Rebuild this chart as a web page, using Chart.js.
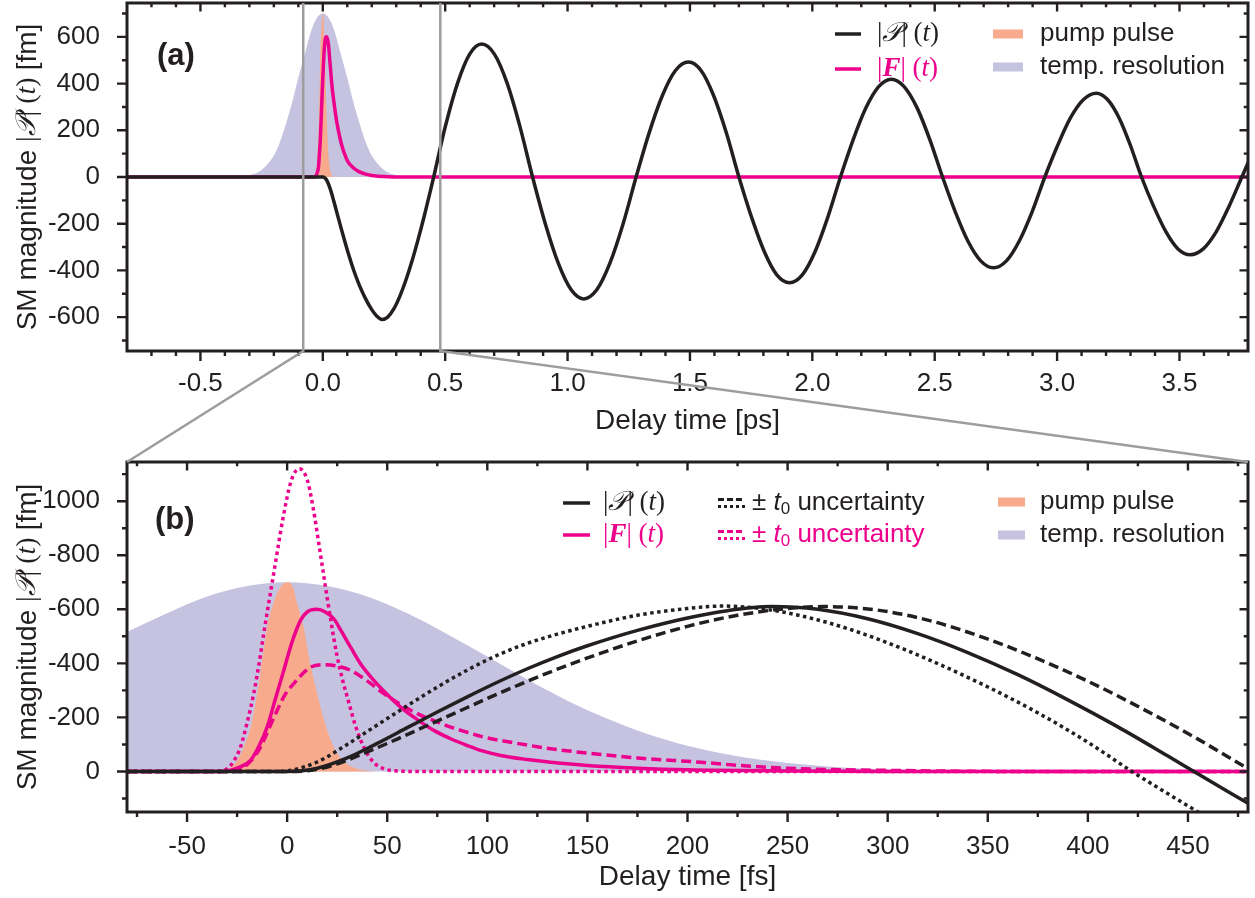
<!DOCTYPE html>
<html>
<head>
<meta charset="utf-8">
<script src="https://cdn.jsdelivr.net/npm/chart.js@4.4.1/dist/chart.umd.min.js"></script>
<style>
  body { margin: 0; background: #fff; }
  #wrap { position: relative; width: 1255px; height: 898px; }
  #wrap canvas { position: absolute; left: 0; top: 0; }
</style>
</head>
<body>
<div id="wrap">
  <canvas id="chartA" width="1255" height="898"></canvas>
  <canvas id="chartB" width="1255" height="898"></canvas>
</div>
<script>
// panel (a): delay [ps] -> magnitude [fm]
const aP = [[-0.8,0],[-0.1,0],[0,0],[0.015,-12],[0.03,-50],[0.045,-104],[0.06,-162],[0.075,-220],[0.09,-276],[0.105,-330],
  [0.12,-380],[0.135,-425],[0.15,-465],[0.175,-522],[0.2,-568],[0.22,-595],[0.242,-610],[0.265,-600],[0.29,-565],[0.315,-510],
  [0.34,-440],[0.365,-358],[0.39,-265],[0.415,-165],[0.44,-57],[0.453,0],
  [0.5,214],[0.55,400],[0.6,526],[0.649,569],[0.701,526],[0.753,402],[0.805,218],[0.857,0],
  [0.909,-200],[0.962,-369],[1.014,-482],[1.066,-522],[1.12,-482],[1.173,-369],[1.227,-200],[1.28,0],
  [1.333,188],[1.387,348],[1.44,455],[1.494,492],[1.546,455],[1.597,348],[1.649,188],[1.7,0],
  [1.752,-173],[1.804,-320],[1.855,-419],[1.907,-453],[1.959,-419],[2.011,-320],[2.063,-173],[2.115,0],
  [2.167,160],[2.219,296],[2.271,387],[2.323,419],[2.375,387],[2.428,296],[2.48,160],[2.532,0],
  [2.584,-149],[2.636,-275],[2.688,-359],[2.74,-389],[2.793,-359],[2.845,-275],[2.898,-149],[2.95,0],
  [3.003,137],[3.055,254],[3.108,332],[3.16,359],[3.206,332],[3.253,254],[3.299,137],[3.345,0],
  [3.395,-127],[3.445,-235],[3.494,-308],[3.544,-333],[3.597,-308],[3.65,-235],[3.702,-127],[3.755,0],[3.8,108]];
const aF = [[-0.8,0],[-0.035,0],[-0.03,2],[-0.024,15],[-0.018,41],[-0.014,95],[-0.01,164],[-0.006,265],[-0.002,374],[0.0025,480],
  [0.0067,559],[0.01,590],[0.015,600],[0.019,590],[0.0233,565],[0.027,520],[0.0317,460],[0.037,395],[0.0433,337],[0.05,285],
  [0.0567,238],[0.065,192],[0.0733,152],[0.0817,121],[0.09,96],[0.098,75],[0.1067,59],[0.12,44],[0.1317,34],[0.15,22],
  [0.175,12],[0.2,6],[0.25,2],[0.3,0],[3.8,0]];
const aPump = [[-0.8,0],[-0.04,0],[-0.03,8],[-0.025,40],[-0.0217,90],[-0.018,170],[-0.015,288],[-0.0125,410],[-0.01,534],[-0.006,640],
  [-0.003,685],[0,700],[0.003,680],[0.005,620],[0.0083,534],[0.011,420],[0.015,288],[0.019,175],[0.0233,90],[0.028,40],
  [0.033,15],[0.04,3],[0.05,0],[3.8,0]];
const aRes = [[-0.8,0],[-0.4,0],[-0.35,2],[-0.3,8],[-0.25,30],[-0.2,92],[-0.175,150],[-0.15,230],[-0.125,320],[-0.1,425],
  [-0.075,520],[-0.05,618],[-0.025,680],[0,700],[0.025,680],[0.05,618],[0.075,520],[0.1,425],[0.125,320],[0.15,230],
  [0.175,150],[0.2,92],[0.25,30],[0.3,8],[0.35,2],[0.4,0],[3.8,0]];
const aXTicks = [-0.5,0,0.5,1,1.5,2,2.5,3,3.5];
const aXMinor = [-0.7,-0.6,-0.4,-0.3,-0.2,-0.1,0.1,0.2,0.3,0.4,0.6,0.7,0.8,0.9,1.1,1.2,1.3,1.4,1.6,1.7,1.8,1.9,
  2.1,2.2,2.3,2.4,2.6,2.7,2.8,2.9,3.1,3.2,3.3,3.4,3.6,3.7];
const aYTicks = [-600,-400,-200,0,200,400,600];
const aYMinor = [-700,-500,-300,-100,100,300,500,700];

// panel (b): delay [fs] -> magnitude [fm], axis drawn reversed
const bP = [[-80,0],[0,0],[15,-12],[30,-50],[45,-104],[60,-162],[75,-220],[90,-276],[105,-330],[120,-380],[135,-425],[150,-465],
  [175,-522],[200,-568],[220,-595],[242,-610],[265,-600],[290,-565],[315,-510],[340,-440],[365,-358],[390,-265],[415,-165],
  [440,-57],[453,0],[480,118]];
const bPEarly = [[-80,0],[-5,0],[0,-2],[15,-35],[30,-100],[45,-172],[60,-243],[75,-312],[90,-375],[105,-430],[120,-474],[135,-508],
  [150,-537],[175,-578],[200,-603],[218,-612],[242,-597],[268,-555],[295,-490],[321,-412],[348,-320],[374,-221],[400,-108],
  [422,0],[455,150],[480,262]];
const bPLate = [[-80,0],[5,0],[15,-8],[25,-28],[40,-72],[55,-120],[70,-170],[85,-220],[100,-270],[115,-318],[130,-364],[150,-420],
  [175,-483],[200,-537],[225,-578],[250,-603],[268,-610],[295,-597],[321,-558],[348,-495],[374,-420],[400,-334],[427,-233],
  [453,-128],[480,-10]];
const bF = [[-80,0],[-35,0],[-30,-2],[-24,-15],[-18.3,-41],[-14,-95],[-10,-164],[-6,-265],[-1.7,-374],[2.5,-480],[6.7,-559],
  [10,-590],[15,-600],[19,-590],[23.3,-565],[27,-520],[31.7,-460],[37,-395],[43.3,-337],[50,-285],[56.7,-238],[65,-192],
  [73.3,-152],[81.7,-121],[90,-96],[98,-75],[106.7,-59],[120,-44],[131.7,-34],[150,-22],[175,-12],[200,-6],[250,-2],[300,0],[480,0]];
const bFLate = [[-80,0],[-30,0],[-23.3,-8],[-18,-40],[-13.3,-90],[-9,-160],[-5,-226],[-1,-285],[3.3,-325],[7.5,-360],[11.7,-386],
  [18.3,-395],[25,-390],[31.7,-374],[40,-335],[48.3,-288],[56.7,-248],[65,-214],[73.3,-188],[81.7,-164],[90,-145],[98.3,-127],
  [115,-104],[131.7,-84],[150,-68],[175,-50],[206.7,-34],[230,-20],[256.7,-10],[300,-4],[370,0],[480,0]];
const bFEarly = [[-80,0],[-35,0],[-30,-10],[-26.5,-40],[-23.3,-90],[-20,-180],[-16.7,-288],[-14,-400],[-11.7,-510],[-9.5,-610],
  [-7,-720],[-5,-810],[-2,-940],[2,-1075],[6,-1120],[10,-1080],[13,-975],[16,-835],[19,-690],[22,-550],[25,-425],[28,-330],
  [31,-250],[34,-172],[38.3,-90],[43,-35],[48.3,-10],[55,-2],[65,0],[480,0]];
const bPump = [[-80,0],[-40,0],[-30,-8],[-25,-40],[-21.7,-90],[-18,-170],[-15,-288],[-12.5,-410],[-10,-534],[-6,-640],[-3,-685],
  [0,-700],[3,-680],[5,-620],[8.3,-534],[11,-420],[15,-288],[19,-175],[23.3,-90],[28,-40],[33,-15],[40,-3],[50,0],[480,0]];
const bRes = [[-80,-516],[-60,-585],[-40,-647],[-20,-686],[0,-700],[20,-686],[40,-647],[60,-585],[80,-508],[100,-425],[120,-340],
  [140,-262],[160,-195],[180,-139],[200,-95],[225,-56],[250,-31],[275,-16],[300,-8],[350,-2],[400,0],[480,0]];
const bXTicks = [-50,0,50,100,150,200,250,300,350,400,450];
const bXMinor = [-75,-25,25,75,125,175,225,275,325,375,425,475];
const bYTicks = [-1000,-800,-600,-400,-200,0];
const bYMinor = [-1100,-900,-700,-500,-300,-100,100];

const INK = '#231f20', MAG = '#ec008c', ORANGE = '#f7aa8c', LAV = '#c5c3e0', GREY = '#9d9d9d';
const SANS = "'Liberation Sans', Arial, sans-serif";
const MATH = "'Liberation Serif', 'DejaVu Serif', serif";
Chart.defaults.font.family = SANS;
Chart.defaults.color = INK;

const pts = arr => arr.map(([x, y]) => ({ x, y }));
function lineDs(label, arr, color, dash, order) {
  return { label, data: pts(arr), borderColor: color, borderWidth: 3.5, borderDash: dash || [], borderCapStyle: 'butt',
    pointRadius: 0, fill: false, cubicInterpolationMode: 'monotone', order };
}
function areaDs(label, arr, color, order) {
  return { label, data: pts(arr), borderColor: 'rgba(0,0,0,0)', borderWidth: 0, backgroundColor: color,
    pointRadius: 0, fill: 'origin', cubicInterpolationMode: 'monotone', order };
}

// text made of differently styled pieces
function segWidth(ctx, segs) {
  return segs.reduce((w, s) => { ctx.font = s.f; return w + ctx.measureText(s.t).width; }, 0);
}
function rich(ctx, x, y, segs, color) {
  ctx.textBaseline = 'middle';
  ctx.textAlign = 'left';
  segs.forEach(s => {
    ctx.font = s.f;
    ctx.fillStyle = s.c || color || INK;
    ctx.fillText(s.t, x, y + (s.dy || 0));
    x += ctx.measureText(s.t).width;
  });
}

const sans = `26px ${SANS}`, math = `27px ${MATH}`, mathI = `italic 27px ${MATH}`;
const pLabel = [{ t: '|', f: math }, { t: '𝒫', f: mathI }, { t: '| (', f: math }, { t: 't', f: mathI }, { t: ')', f: math }];
const fLabel = [{ t: '|', f: math }, { t: 'F', f: `bold italic 27px ${MATH}` }, { t: '| (', f: math }, { t: 't', f: mathI }, { t: ')', f: math }];
const uLabel = [{ t: '± ', f: sans }, { t: 't', f: `italic 26px ${SANS}` }, { t: '0', f: `17px ${SANS}`, dy: 6 }, { t: ' uncertainty', f: sans }];
const yTitle = [{ t: 'SM magnitude ', f: `28px ${SANS}` }, { t: '|', f: `28px ${MATH}` }, { t: '𝒫', f: `italic 28px ${MATH}` },
  { t: '| (', f: `28px ${MATH}` }, { t: 't', f: `italic 28px ${MATH}` }, { t: ') ', f: `28px ${MATH}` }, { t: '[fm]', f: `28px ${SANS}` }];

function framePlugin(xMinor, yMinor) {
  return {
    id: 'frame',
    afterDraw(chart) {
      const { ctx, chartArea: ca, scales: { x, y } } = chart;
      ctx.save();
      ctx.strokeStyle = INK;
      ctx.lineWidth = 2.4;
      ctx.beginPath();
      const mark = (vals, len, axis) => vals.forEach(v => {
        if (axis === 'x') {
          const px = x.getPixelForValue(v);
          ctx.moveTo(px, ca.bottom); ctx.lineTo(px, ca.bottom + len);
          ctx.moveTo(px, ca.top); ctx.lineTo(px, ca.top + len * 0.85);
        } else {
          const py = y.getPixelForValue(v);
          ctx.moveTo(ca.left, py); ctx.lineTo(ca.left - len, py);
          ctx.moveTo(ca.right, py); ctx.lineTo(ca.right - len * 0.85, py);
        }
      });
      mark(x.ticks.map(t => t.value), 10, 'x');
      mark(xMinor, 5, 'x');
      mark(y.ticks.map(t => t.value), 10, 'y');
      mark(yMinor, 5, 'y');
      ctx.stroke();
      ctx.lineWidth = 3;
      ctx.strokeRect(ca.left, ca.top, ca.width, ca.height);
      ctx.restore();
    }
  };
}

// panel tag, rotated y title and the hand-laid legend
function decoPlugin(cfg) {
  return {
    id: 'deco',
    afterDraw(chart) {
      const { ctx, chartArea: ca } = chart;
      ctx.save();
      ctx.font = `bold 31px ${SANS}`;
      ctx.fillStyle = INK;
      ctx.textBaseline = 'middle';
      ctx.fillText(cfg.tag, ca.left + cfg.tagAt[0], ca.top + cfg.tagAt[1]);

      ctx.save();
      ctx.translate(28, (ca.top + ca.bottom) / 2);
      ctx.rotate(-Math.PI / 2);
      rich(ctx, -segWidth(ctx, yTitle) / 2, 0, yTitle);
      ctx.restore();

      cfg.legend.forEach(it => {
        const x = ca.right + it.x, y = ca.top + it.y;
        ctx.setLineDash([]);
        ctx.lineCap = 'butt';
        if (it.kind === 'line') {
          ctx.strokeStyle = it.color; ctx.lineWidth = 3.5;
          ctx.beginPath(); ctx.moveTo(x, y); ctx.lineTo(x + it.w, y); ctx.stroke();
        } else if (it.kind === 'pair') {
          ctx.strokeStyle = it.color; ctx.lineWidth = 3;
          ctx.setLineDash([6, 3]);
          ctx.beginPath(); ctx.moveTo(x, y - 3.5); ctx.lineTo(x + it.w, y - 3.5); ctx.stroke();
          ctx.setLineDash([3, 3]);
          ctx.beginPath(); ctx.moveTo(x, y + 3.5); ctx.lineTo(x + it.w, y + 3.5); ctx.stroke();
          ctx.setLineDash([]);
        } else {
          ctx.fillStyle = it.color;
          ctx.fillRect(x, y - 4.5, it.w, 9);
        }
        rich(ctx, ca.right + it.tx, y, it.text, it.textColor);
      });
      ctx.restore();
    }
  };
}

function noPad(s) { s.paddingTop = 0; s.paddingBottom = 0; s.paddingLeft = 0; s.paddingRight = 0; }

function axes(xMin, xMax, xTicks, yMin, yMax, yTicks, xFmt, xTitle, xH, tickPad, titlePad, reverse) {
  return {
    x: { type: 'linear', min: xMin, max: xMax,
      afterBuildTicks: s => { s.ticks = xTicks.map(value => ({ value })); },
      afterFit: s => { s.height = xH; noPad(s); },
      grid: { display: false }, border: { display: false },
      ticks: { padding: tickPad, autoSkip: false, maxRotation: 0, font: { size: 26 }, callback: xFmt },
      title: { display: true, text: xTitle, font: { size: 28, lineHeight: 1 }, padding: { top: 0, bottom: titlePad } } },
    y: { type: 'linear', min: yMin, max: yMax, reverse: !!reverse,
      afterBuildTicks: s => { s.ticks = yTicks.map(value => ({ value })); },
      afterFit: s => { s.width = 127; noPad(s); },
      grid: { display: false }, border: { display: false },
      ticks: { padding: 19, autoSkip: false, font: { size: 26 }, callback: v => String(v) } }
  };
}

const chartA = new Chart(document.getElementById('chartA'), {
  type: 'line',
  data: { datasets: [
    lineDs('|P|(t)', aP, INK, null, 1),
    lineDs('|F|(t)', aF, MAG, null, 2),
    areaDs('pump pulse', aPump, ORANGE, 3),
    areaDs('temp. resolution', aRes, LAV, 4)
  ] },
  options: {
    responsive: false, animation: false, events: [],
    layout: { autoPadding: false, padding: { left: 0, top: 3, right: 7, bottom: 458 } },
    plugins: { legend: { display: false }, tooltip: { enabled: false } },
    scales: axes(-0.8, 3.78, aXTicks, -745, 745, aYTicks, v => v.toFixed(1), 'Delay time [ps]', 89, 9, 5)
  },
  plugins: [framePlugin(aXMinor, aYMinor), decoPlugin({
    tag: '(a)', tagAt: [30, 53],
    legend: [
      { kind: 'line', color: INK, x: -413, w: 26, y: 31, tx: -371, text: pLabel },
      { kind: 'line', color: MAG, x: -413, w: 26, y: 66, tx: -371, text: fLabel, textColor: MAG },
      { kind: 'box', color: ORANGE, x: -255, w: 30, y: 31, tx: -208, text: [{ t: 'pump pulse', f: sans }] },
      { kind: 'box', color: LAV, x: -255, w: 30, y: 64, tx: -208, text: [{ t: 'temp. resolution', f: sans }] }
    ]
  })]
});

const zoomLines = {
  id: 'zoomLines',
  afterDraw(chart) {
    const { ctx, chartArea: cb } = chart;
    const ca = chartA.chartArea, ax = chartA.scales.x;
    const xl = ax.getPixelForValue(chart.scales.x.min / 1000);
    const xr = ax.getPixelForValue(chart.scales.x.max / 1000);
    ctx.save();
    ctx.strokeStyle = GREY;
    ctx.lineWidth = 2.5;
    ctx.beginPath();
    ctx.moveTo(xl, ca.top); ctx.lineTo(xl, ca.bottom); ctx.lineTo(cb.left, cb.top);
    ctx.moveTo(xr, ca.top); ctx.lineTo(xr, ca.bottom); ctx.lineTo(cb.right, cb.top);
    ctx.stroke();
    ctx.restore();
  }
};

new Chart(document.getElementById('chartB'), {
  type: 'line',
  data: { datasets: [
    lineDs('|P|(t)', bP, INK, null, 1),
    lineDs('|P|(t) -t0', bPLate, INK, [10, 5], 2),
    lineDs('|P|(t) +t0', bPEarly, INK, [3.5, 3.5], 3),
    lineDs('|F|(t)', bF, MAG, null, 4),
    lineDs('|F|(t) -t0', bFLate, MAG, [10, 5], 5),
    lineDs('|F|(t) +t0', bFEarly, MAG, [3.5, 3.5], 6),
    areaDs('pump pulse', bPump, ORANGE, 7),
    areaDs('temp. resolution', bRes, LAV, 8)
  ] },
  options: {
    responsive: false, animation: false, events: [],
    layout: { autoPadding: false, padding: { left: 0, top: 462, right: 7, bottom: 0 } },
    plugins: { legend: { display: false }, tooltip: { enabled: false } },
    scales: axes(-80, 480, bXTicks, -1145, 150, bYTicks, v => String(v), 'Delay time [fs]', 86, 11, 7, true)
  },
  plugins: [framePlugin(bXMinor, bYMinor), decoPlugin({
    tag: '(b)', tagAt: [28, 58],
    legend: [
      { kind: 'line', color: INK, x: -685, w: 27, y: 41, tx: -645, text: pLabel },
      { kind: 'line', color: MAG, x: -685, w: 27, y: 73, tx: -645, text: fLabel, textColor: MAG },
      { kind: 'pair', color: INK, x: -530, w: 27, y: 41, tx: -496, text: uLabel },
      { kind: 'pair', color: MAG, x: -530, w: 27, y: 73, tx: -496, text: uLabel, textColor: MAG },
      { kind: 'box', color: ORANGE, x: -250, w: 27, y: 40, tx: -208, text: [{ t: 'pump pulse', f: sans }] },
      { kind: 'box', color: LAV, x: -250, w: 27, y: 73, tx: -208, text: [{ t: 'temp. resolution', f: sans }] }
    ]
  }), zoomLines]
});
</script>
</body>
</html>
